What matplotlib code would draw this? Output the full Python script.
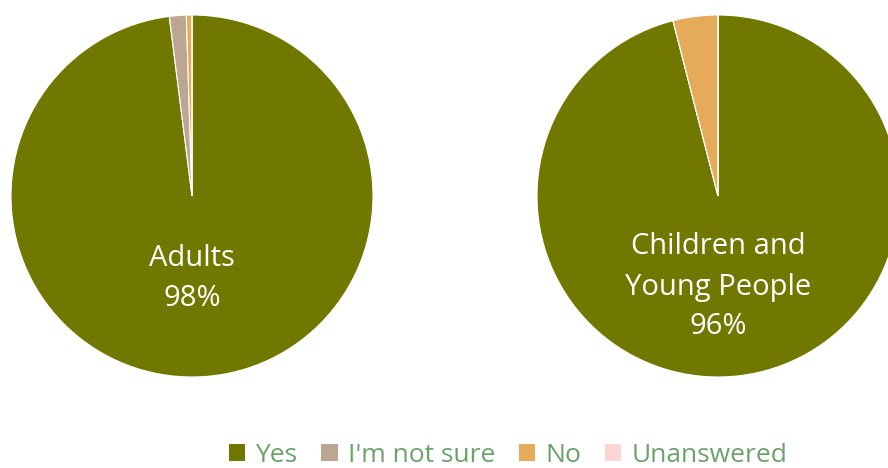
import matplotlib.pyplot as plt
from matplotlib.patches import Patch

plt.rcParams["font.family"] = ["Open Sans", "DejaVu Sans"]

# response shares (percent) per group
categories = ["Yes", "I'm not sure", "No", "Unanswered"]
adults = [98.0, 1.5, 0.5, 0.0]
children = [96.0, 0.0, 4.0, 0.0]
group_labels = ["Adults", "Children and\nYoung People"]
headline = ["98%", "96%"]

colors = ["#707800", "#bca692", "#e5aa5a", "#fdd5d3"]
legend_text_color = "#6aa26a"

W, H = 888, 468
fig = plt.figure(figsize=(W / 100, H / 100), dpi=100)
ax = fig.add_axes([0, 0, 1, 1])

centers = [(192, H - 196), (718, H - 196)]
radius = 181

for vals, (cx, cy) in zip([adults, children], centers):
    ax.pie(vals, colors=colors, startangle=90, counterclock=False,
           center=(cx, cy), radius=radius, frame=True,
           wedgeprops=dict(edgecolor="white", linewidth=0.8))

ax.set_xlim(0, W)
ax.set_ylim(0, H)
ax.set_aspect("equal")
ax.axis("off")

ax.text(192, H - 278, group_labels[0] + "\n" + headline[0], ha="center", va="center",
        color="white", fontsize=21, linespacing=1.5)
ax.text(718, H - 287, group_labels[1] + "\n" + headline[1], ha="center", va="center",
        color="white", fontsize=21, linespacing=1.5)

handles = [Patch(facecolor=c, edgecolor="none") for c in colors]
leg = fig.legend(handles, categories, loc="center", ncol=4,
                 bbox_to_anchor=(508 / W, 1 - 455 / H), frameon=False,
                 fontsize=19, handlelength=0.62, handleheight=0.62,
                 handletextpad=0.38, columnspacing=0.9, borderpad=0.05)
for t in leg.get_texts():
    t.set_color(legend_text_color)

fig.savefig("out.png", dpi=100)
